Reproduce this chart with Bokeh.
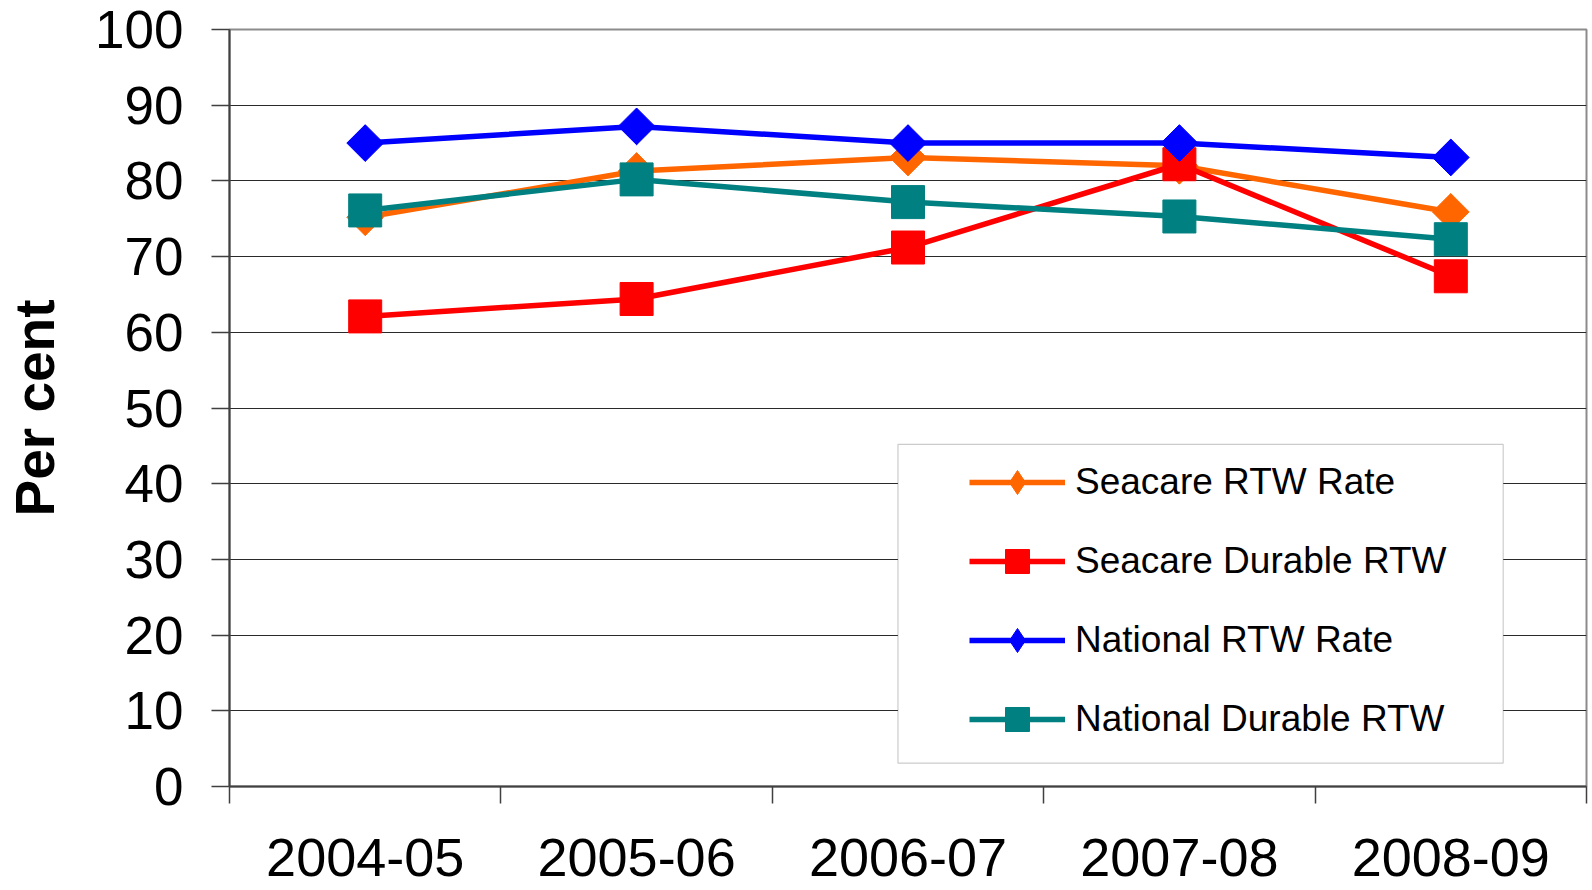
import math
from bokeh.plotting import figure
from bokeh.models import Range1d, FixedTicker, Legend, LegendItem, BoxAnnotation
from bokeh.embed import file_html
from bokeh.resources import INLINE

categories = ["2004-05", "2005-06", "2006-07", "2007-08", "2008-09"]
seacare_rtw_rate = [75.2, 81.3, 83.1, 82.0, 75.9]
seacare_durable_rtw = [62.1, 64.4, 71.2, 82.2, 67.4]
national_rtw_rate = [85.0, 87.2, 85.0, 85.0, 83.1]
national_durable_rtw = [76.1, 80.2, 77.2, 75.3, 72.3]
y_ticks = list(range(0, 101, 10))

series = [
    ("Seacare RTW Rate", seacare_rtw_rate, "#FF6600", "diamond"),
    ("Seacare Durable RTW", seacare_durable_rtw, "#FF0000", "square"),
    ("National RTW Rate", national_rtw_rate, "#0000FF", "diamond"),
    ("National Durable RTW", national_durable_rtw, "#008080", "square"),
]

FONT = "Liberation Sans"
xs = list(range(len(categories)))

p = figure(width=1588, height=890, output_backend="svg", toolbar_location=None,
           x_range=Range1d(-0.5, len(categories) - 0.5), y_range=Range1d(0, 100),
           min_border_left=229, min_border_right=2, min_border_top=29, min_border_bottom=104)
p.background_fill_color = "white"
p.border_fill_color = "white"
p.outline_line_color = "#8c8c8c"
p.outline_line_width = 2

# y axis
p.yaxis.ticker = FixedTicker(ticks=y_ticks)
p.yaxis.axis_line_color = "#404040"
p.yaxis.axis_line_width = 2
p.yaxis.major_tick_line_color = "#404040"
p.yaxis.major_tick_line_width = 1.5
p.yaxis.major_tick_out = 18
p.yaxis.major_tick_in = 0
p.yaxis.minor_tick_line_color = None
p.yaxis.major_label_text_font = FONT
p.yaxis.major_label_text_font_size = "53px"
p.yaxis.major_label_text_color = "black"
p.yaxis.major_label_standoff = 28
p.yaxis.axis_label = "Per cent"
p.yaxis.axis_label_text_font = FONT
p.yaxis.axis_label_text_font_size = "55px"
p.yaxis.axis_label_text_font_style = "bold"
p.yaxis.axis_label_text_color = "black"
p.yaxis.axis_label_standoff = 26

# x axis: labels at centres, tick marks at category boundaries
boundaries = [i - 0.5 for i in range(len(categories) + 1)]
p.xaxis.ticker = FixedTicker(ticks=xs, minor_ticks=boundaries)
p.xaxis.major_label_overrides = {i: c for i, c in zip(xs, categories)}
p.xaxis.axis_line_color = "#404040"
p.xaxis.axis_line_width = 2
p.xaxis.major_tick_line_color = None
p.xaxis.major_tick_out = 0
p.xaxis.major_tick_in = 0
p.xaxis.minor_tick_line_color = "#404040"
p.xaxis.minor_tick_line_width = 1.5
p.xaxis.minor_tick_out = 17
p.xaxis.minor_tick_in = 0
p.xaxis.major_label_text_font = FONT
p.xaxis.major_label_text_font_size = "54px"
p.xaxis.major_label_text_color = "black"
p.xaxis.major_label_standoff = 35

p.xgrid.grid_line_color = None
p.ygrid.ticker = FixedTicker(ticks=y_ticks[1:-1])
p.ygrid.grid_line_color = "#2a2a2a"
p.ygrid.grid_line_width = 1

# legend frame (white box hiding gridlines)
box = BoxAnnotation(left=1.963, right=4.193, bottom=3.1, top=45.2,
                    fill_color="white", fill_alpha=1.0,
                    line_color="#555555", line_width=1.2)
p.add_layout(box)

items = []
for name, vals, color, marker in series:
    ln = p.line(xs, vals, line_color=color, line_width=5.5)
    if marker == "diamond":
        leg = p.scatter(xs, vals, marker="diamond", size=36, fill_color=color, line_color=color)
        p.scatter(xs, vals, marker="square", angle=math.pi / 4, size=26,
                  fill_color=color, line_color=color)
    else:
        leg = p.scatter(xs, vals, marker="square", size=33, fill_color=color, line_color=color)
    items.append(LegendItem(label=name, renderers=[ln, leg]))

legend = Legend(items=items, location=(740, 37), padding=0, margin=0,
                glyph_width=96, glyph_height=60, label_height=60, spacing=19,
                label_standoff=10, label_text_font=FONT, label_text_font_size="37px",
                label_text_color="black", background_fill_alpha=0, border_line_alpha=0)
p.add_layout(legend, "center")

open("out.html", "w").write(file_html(p, INLINE))
